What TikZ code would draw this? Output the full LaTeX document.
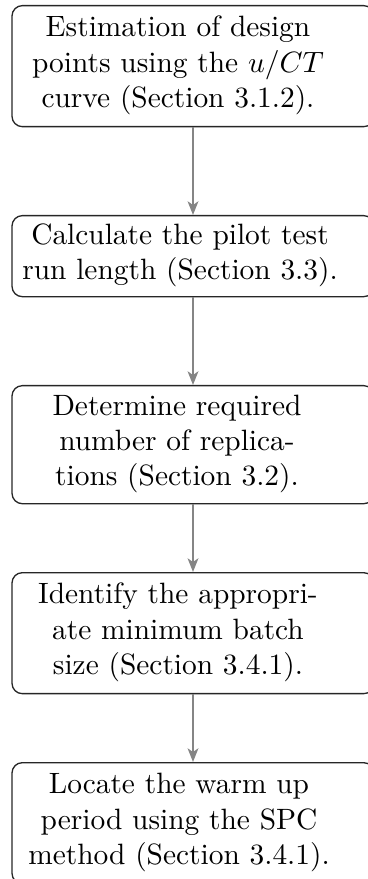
\documentclass[tikz,border=0pt]{standalone}
\usetikzlibrary{arrows.meta}
\begin{document}
\begin{tikzpicture}[x=0.3401pt,y=-0.3401pt,
  stepbox/.style={draw=black!85, line width=0.45pt, rounded corners=3.5pt,
    minimum width=123.1pt, anchor=north, inner sep=0pt},
  steptext/.style={align=center, inner sep=0pt},
  flow/.style={draw=black!48, line width=1pt,
    -{Stealth[length=4.6pt,width=3.6pt,inset=1.2pt]}}]
\useasboundingbox (0,0) rectangle (367,879);

% frames of the five steps
\node[stepbox, minimum height=41.15pt] (b1) at (193,5) {};
\node[stepbox, minimum height=27.55pt] (b2) at (193,215) {};
\node[stepbox, minimum height=40.15pt] (b3) at (193,385) {};
\node[stepbox, minimum height=41.15pt] (b4) at (193,572) {};
\node[stepbox, minimum height=41.15pt] (b5) at (193,762) {};

% step descriptions
\node[steptext] (t1) at (178,65.5) {Estimation of design\\points using the $u/CT$\\curve (Section 3.1.2).};
\node[steptext] (t2) at (180,255.5) {Calculate the pilot test\\run length (Section 3.3).};
\node[steptext] (t3) at (177,444) {Determine required\\number of replica-\\tions (Section 3.2).};
\node[steptext] (t4) at (178,632.5) {Identify the appropri-\\ate minimum batch\\size (Section 3.4.1).};
\node[steptext] (t5) at (179,822.5) {Locate the warm up\\period using the SPC\\method (Section 3.4.1).};

% flow between steps
\draw[flow] (b1.south) -- (b2.north);
\draw[flow] (b2.south) -- (b3.north);
\draw[flow] (b3.south) -- (b4.north);
\draw[flow] (b4.south) -- (b5.north);
\end{tikzpicture}
\end{document}
